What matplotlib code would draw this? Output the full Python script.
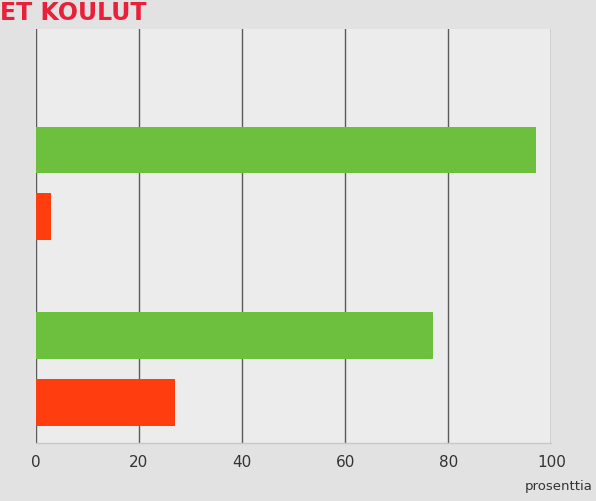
import matplotlib
matplotlib.use("Agg")
import matplotlib.pyplot as plt
import numpy as np

# data
groups = ["Ryhmä 1", "Ryhmä 2"]
series_names = ["kyllä", "ei"]
green_values = [97, 77]
red_values = [3, 27]
xticks = [0, 20, 40, 60, 80, 100]
xlabel = "prosenttia"
title = "ET KOULUT"

GREEN = "#6dbf3e"
RED = "#ff3d0f"

fig = plt.figure(figsize=(5.96, 5.02), dpi=100)
fig.patch.set_facecolor("#e2e2e2")
ax = fig.add_axes([0.06, 0.115, 0.865, 0.825])
ax.set_facecolor("#ececec")

centers = np.arange(len(groups))
off = 0.18
h = 0.25
ax.barh(centers - off, green_values, height=h, color=GREEN, zorder=3, label=series_names[0])
ax.barh(centers + off, red_values, height=h, color=RED, zorder=3, label=series_names[1])

ax.set_xlim(0, 100)
ax.set_ylim(1.40, -0.83)
ax.set_xticks(xticks)
ax.set_xticklabels([str(t) for t in xticks], fontsize=11, color="#333333")
ax.set_yticks([])
ax.tick_params(axis="x", length=0, pad=8)
for t in xticks:
    ax.axvline(t, color="#5a5a5a", lw=1.0, zorder=1)
for s in ["top", "right", "left"]:
    ax.spines[s].set_visible(False)
ax.spines["bottom"].set_color("#c8c8c8")
ax.spines["bottom"].set_linewidth(1.0)

fig.text(0.995, 0.03, xlabel, fontsize=9.5, color="#333333", ha="right", va="center")
fig.text(0.0, 0.999, title, fontsize=17, fontweight="bold", color="#e8203a",
         ha="left", va="top")

fig.savefig("out.png", dpi=100, facecolor=fig.get_facecolor())
